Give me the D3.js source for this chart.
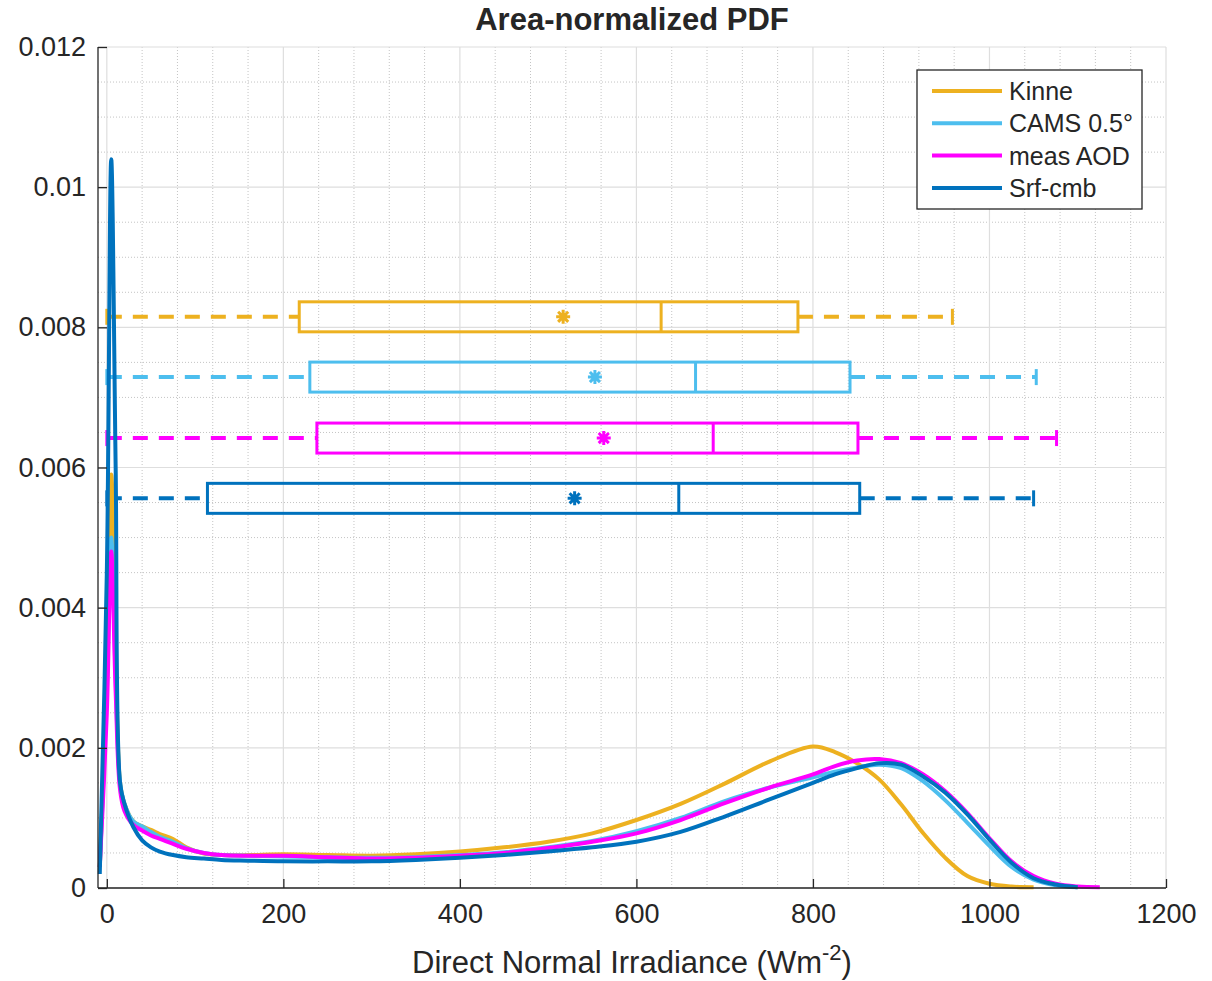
<!DOCTYPE html>
<html lang="en">
  <head>
    <meta charset="utf-8">
    <title>Area-normalized PDF</title>
    <script src="https://cdn.jsdelivr.net/npm/d3@7"></script>
    <style>
      body { margin: 0; background: #fff; }
      text { font-family: "Liberation Sans", Arial, sans-serif; fill: #262626; }
    </style>
  </head>
  <body>
    <script>
      // ---- data ----
      const series = ["Kinne", "CAMS 0.5°", "meas AOD", "Srf-cmb"];
      const colors = ["#EDB120", "#4DBEEE", "#FF00FF", "#0072BD"];

      // common DNI grid (Wm-2) for the density curves
      const dni = [-8, 0, 5, 10, 15, 20, 30, 40, 50, 60, 75, 90, 110, 130, 160, 200, 250, 300, 350, 400,
                   450, 500, 550, 600, 650, 700, 750, 800, 825, 850, 875, 900, 925, 950, 975, 1000,
                   1025, 1050, 1075, 1100, 1125];
      const pdfKinne = [0.0003, 0.0030, 0.0059, 0.0035, 0.0015, 0.0012, 0.00095, 0.00088, 0.00083, 0.00077, 0.00070, 0.00058,
                        0.00049, 0.00047, 0.00047, 0.00048, 0.00047, 0.00046, 0.00048, 0.00052, 0.00058, 0.00066, 0.00078,
                        0.00097, 0.00120, 0.00149, 0.00180, 0.00202, 0.00194, 0.00178, 0.00155, 0.00119, 0.00078, 0.00043,
                        0.00017, 0.00006, 0.00002, 0.00001, null, null, null];
      const pdfCams = [0.0003, 0.0028, 0.0050, 0.0030, 0.0015, 0.0012, 0.00095, 0.00088, 0.00080, 0.00073, 0.00066, 0.00057,
                       0.00050, 0.00047, 0.00046, 0.00045, 0.00044, 0.00043, 0.00044, 0.00047, 0.00051, 0.00058, 0.00067,
                       0.00081, 0.00100, 0.00124, 0.00143, 0.00158, 0.00166, 0.00172, 0.00176, 0.00171, 0.00152, 0.00125,
                       0.00093, 0.00060, 0.00030, 0.00012, 0.00004, 0.00001, null];
      const pdfMeas = [0.0003, 0.0025, 0.0048, 0.0028, 0.0014, 0.0011, 0.00090, 0.00082, 0.00075, 0.00070, 0.00063, 0.00056,
                       0.00050, 0.00047, 0.00046, 0.00046, 0.00044, 0.00042, 0.00043, 0.00046, 0.00050, 0.00057, 0.00066,
                       0.00078, 0.00097, 0.00121, 0.00143, 0.00162, 0.00174, 0.00182, 0.00184, 0.00178, 0.00162, 0.00138,
                       0.00107, 0.00071, 0.00038, 0.00017, 0.00006, 0.00002, 0.00001];
      const pdfSrf = [0.0002, 0.0045, 0.0104, 0.0060, 0.0015, 0.0012, 0.00087, 0.00068, 0.00058, 0.00052, 0.00047, 0.00044,
                      0.00042, 0.00040, 0.00039, 0.00038, 0.00038, 0.00038, 0.00040, 0.00043, 0.00047, 0.00052, 0.00058,
                      0.00066, 0.00080, 0.00102, 0.00126, 0.00150, 0.00162, 0.00171, 0.00178, 0.00176, 0.00159, 0.00136,
                      0.00105, 0.00069, 0.00036, 0.00014, 0.00005, 0.00001, null];
      const pdfs = [pdfKinne, pdfCams, pdfMeas, pdfSrf];

      // box plots: whisker low, q1, median, q3, whisker high, mean, and the y level they are drawn at
      const boxLo     = [0, 0, 0, 0];
      const boxQ1     = [218, 230, 238, 114];
      const boxMedian = [628, 667, 687, 648];
      const boxQ3     = [783, 842, 851, 853];
      const boxHi     = [958, 1053, 1076, 1050];
      const boxMean   = [517, 553, 563, 530];
      const boxLevel  = [0.00815, 0.00729, 0.00642, 0.00556];

      const xTicks = [0, 200, 400, 600, 800, 1000, 1200];
      const yTicks = [0, 0.002, 0.004, 0.006, 0.008, 0.01, 0.012];
      const yTickLabels = ["0", "0.002", "0.004", "0.006", "0.008", "0.01", "0.012"];

      // ---- layout ----
      const W = 1212, H = 981;
      const L = 98, R = 1166, T = 47, B = 888;
      const AX = "#262626";

      const svg = d3.select("body").append("svg")
        .attr("width", W)
        .attr("height", H);

      const x = d3.scaleLinear().domain([-10, 1200]).range([L, R]);
      const y = d3.scaleLinear().domain([0, 0.012]).range([B, T]);

      // grid
      const grid = svg.append("g");
      const xMinor = d3.range(40, 1200, 40).filter(v => v % 200 !== 0);
      const yMinor = d3.range(1, 24).map(i => i * 0.0005).filter((v, i) => (i + 1) % 4 !== 0);
      grid.selectAll(".xm").data(xMinor).enter().append("line")
        .attr("x1", d => x(d)).attr("x2", d => x(d)).attr("y1", T).attr("y2", B)
        .attr("stroke", "#c4c4c4").attr("stroke-width", 1).attr("stroke-dasharray", "1,2");
      grid.selectAll(".ym").data(yMinor).enter().append("line")
        .attr("x1", L).attr("x2", R).attr("y1", d => y(d)).attr("y2", d => y(d))
        .attr("stroke", "#c4c4c4").attr("stroke-width", 1).attr("stroke-dasharray", "1,2");
      grid.selectAll(".xg").data(xTicks).enter().append("line")
        .attr("x1", d => x(d)).attr("x2", d => x(d)).attr("y1", T).attr("y2", B)
        .attr("stroke", "#dedede").attr("stroke-width", 1.2);
      grid.selectAll(".yg").data(yTicks).enter().append("line")
        .attr("x1", L).attr("x2", R).attr("y1", d => y(d)).attr("y2", d => y(d))
        .attr("stroke", "#dedede").attr("stroke-width", 1.2);

      // box plots
      const boxes = svg.append("g");
      const HALF = 15, CAP = 8;
      series.forEach(function(name, i) {
        const g = boxes.append("g").attr("stroke", colors[i]).attr("fill", "none");
        const yc = y(boxLevel[i]);
        g.append("line").attr("x1", x(boxLo[i])).attr("x2", x(boxQ1[i])).attr("y1", yc).attr("y2", yc)
          .attr("stroke-width", 4).attr("stroke-dasharray", "15,11");
        g.append("line").attr("x1", x(boxQ3[i])).attr("x2", x(boxHi[i])).attr("y1", yc).attr("y2", yc)
          .attr("stroke-width", 4).attr("stroke-dasharray", "15,11");
        [boxLo[i], boxHi[i]].forEach(v => {
          g.append("line").attr("x1", x(v)).attr("x2", x(v)).attr("y1", yc - CAP).attr("y2", yc + CAP)
            .attr("stroke-width", 3);
        });
        g.append("rect").attr("x", x(boxQ1[i])).attr("y", yc - HALF)
          .attr("width", x(boxQ3[i]) - x(boxQ1[i])).attr("height", 2 * HALF)
          .attr("stroke-width", 3);
        g.append("line").attr("x1", x(boxMedian[i])).attr("x2", x(boxMedian[i]))
          .attr("y1", yc - HALF).attr("y2", yc + HALF).attr("stroke-width", 3);
        // matlab style '*' marker
        const p = d3.path(), s = 7, d = s * 0.72, mx = x(boxMean[i]);
        p.moveTo(mx - s, yc); p.lineTo(mx + s, yc);
        p.moveTo(mx, yc - s); p.lineTo(mx, yc + s);
        p.moveTo(mx - d, yc - d); p.lineTo(mx + d, yc + d);
        p.moveTo(mx - d, yc + d); p.lineTo(mx + d, yc - d);
        g.append("path").attr("d", p.toString()).attr("stroke-width", 3);
      });

      // density curves
      const line = d3.line()
        .defined(d => d[1] != null)
        .x(d => x(d[0]))
        .y(d => y(Math.max(0, d[1])))
        .curve(d3.curveCatmullRom.alpha(0.5));
      pdfs.forEach(function(vals, i) {
        svg.append("path")
          .datum(dni.map((v, k) => [v, vals[k]]))
          .attr("d", line)
          .attr("fill", "none")
          .attr("stroke", colors[i])
          .attr("stroke-width", 4)
          .attr("stroke-linejoin", "round");
      });

      // axes
      const xAxis = svg.append("g").attr("transform", "translate(0," + B + ")")
        .call(d3.axisBottom(x).tickValues(xTicks).tickFormat(d3.format("d"))
          .tickSizeInner(-9).tickSizeOuter(0).tickPadding(16));
      const yAxis = svg.append("g").attr("transform", "translate(" + L + ",0)")
        .call(d3.axisLeft(y).tickValues(yTicks).tickFormat((d, i) => yTickLabels[i])
          .tickSizeInner(-9).tickSizeOuter(0).tickPadding(12));
      [xAxis, yAxis].forEach(a => {
        a.select(".domain").attr("stroke", AX).attr("stroke-width", 1.3);
        a.selectAll(".tick line").attr("stroke", AX).attr("stroke-width", 1.3);
        a.selectAll(".tick text").attr("font-size", 27).attr("fill", AX)
          .attr("font-family", "'Liberation Sans', Arial, sans-serif");
      });
      xAxis.select(".domain").attr("d", "M" + L + ",0H" + R);
      yAxis.select(".domain").attr("d", "M0," + B + "V" + T);

      // title and axis label
      svg.append("text")
        .attr("x", (L + R) / 2).attr("y", 30)
        .attr("text-anchor", "middle")
        .attr("font-size", 31).attr("font-weight", "bold").attr("fill", "#000")
        .text("Area-normalized PDF");

      const xl = svg.append("text")
        .attr("x", (L + R) / 2).attr("y", 973)
        .attr("text-anchor", "middle")
        .attr("font-size", 31);
      xl.append("tspan").text("Direct Normal Irradiance (Wm");
      xl.append("tspan").attr("dy", -13).attr("font-size", 22).text("-2");
      xl.append("tspan").attr("dy", 13).text(")");

      // legend
      const lg = svg.append("g").attr("transform", "translate(917,70)");
      lg.append("rect").attr("width", 225).attr("height", 139)
        .attr("fill", "#fff").attr("stroke", "#262626").attr("stroke-width", 1.3);
      series.forEach(function(name, i) {
        const yy = 21 + i * 32.3;
        lg.append("line").attr("x1", 15).attr("x2", 85).attr("y1", yy).attr("y2", yy)
          .attr("stroke", colors[i]).attr("stroke-width", 4);
        lg.append("text").attr("x", 92).attr("y", yy + 9).attr("font-size", 25).text(name);
      });
    </script>
  </body>
</html>
